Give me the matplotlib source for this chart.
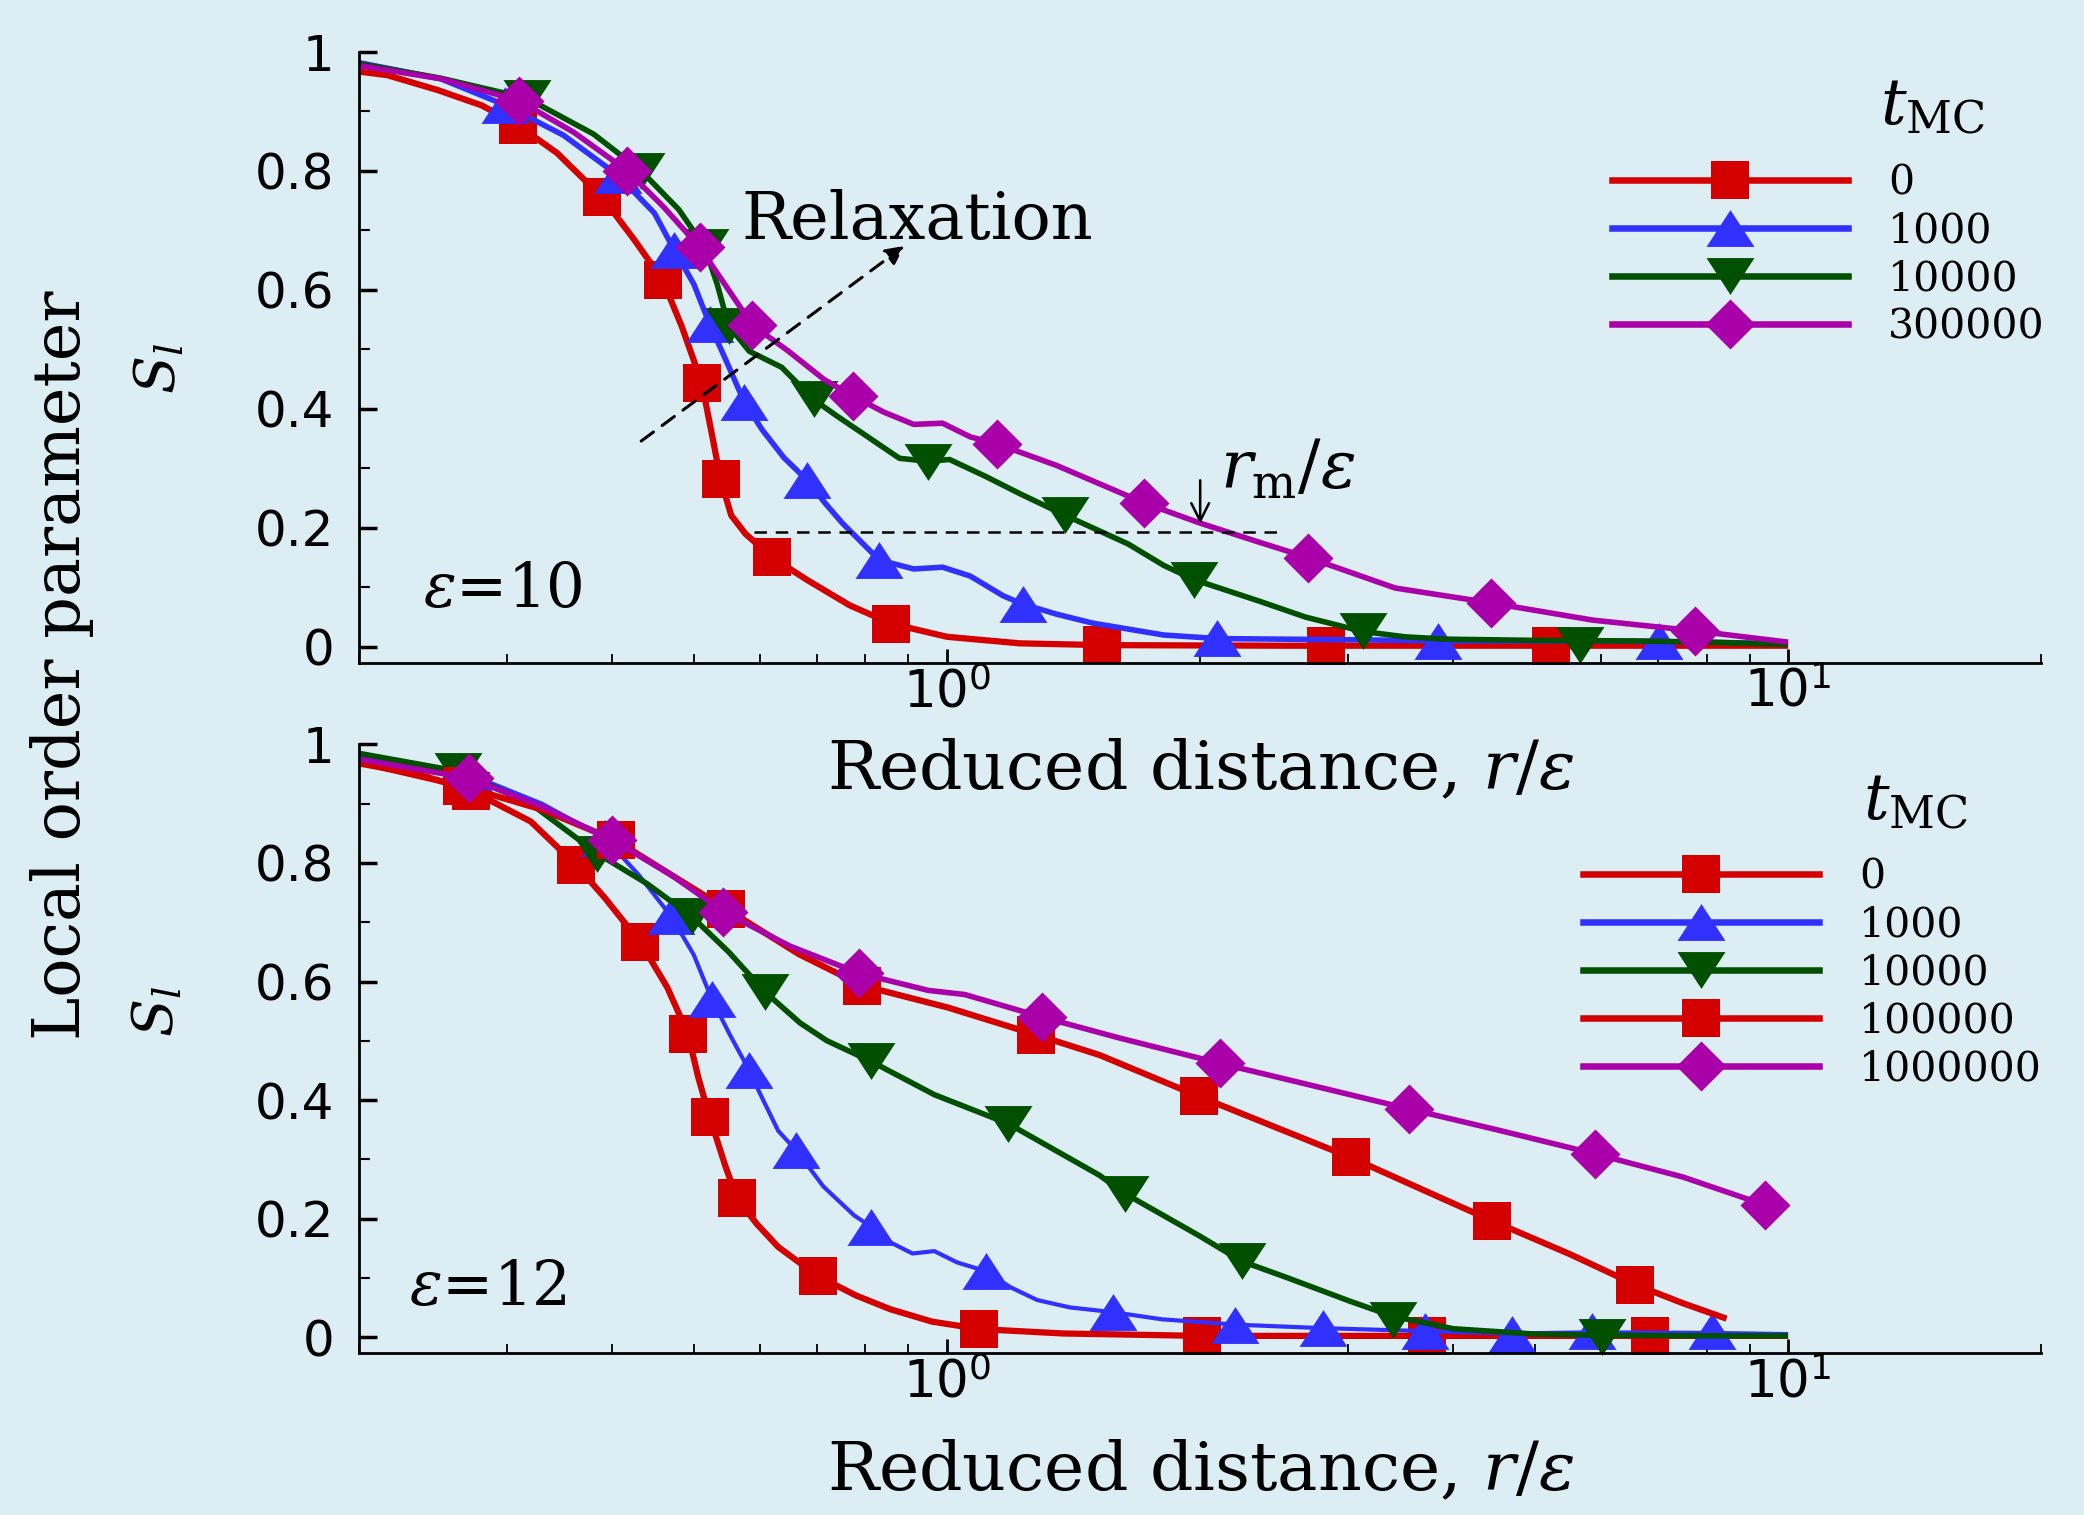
import matplotlib
matplotlib.use("Agg")
import matplotlib.pyplot as plt
from matplotlib.lines import Line2D
from matplotlib.ticker import LogLocator, NullFormatter, MultipleLocator

plt.rcParams['font.family'] = 'DejaVu Serif'
plt.rcParams['mathtext.fontset'] = 'dejavuserif'

BG = '#dcedf3'
RED = '#d40000'
BLUE = '#3030ff'
GREEN = '#005000'
PURPLE = '#aa00aa'

# ---------------- data: epsilon = 10 (top panel) ----------------
a0_cx = [0.2, 0.216, 0.248, 0.28, 0.309, 0.344, 0.389, 0.425, 0.459, 0.484, 0.511, 0.525, 0.538,
         0.554, 0.576, 0.619, 0.681, 0.766, 0.859, 1.0, 1.22, 1.53, 2.5, 4.0, 6.0, 10.0]
a0_cy = [0.967, 0.961, 0.936, 0.91, 0.877, 0.83, 0.756, 0.684, 0.617, 0.538, 0.444, 0.36, 0.282,
         0.221, 0.19, 0.151, 0.113, 0.07, 0.039, 0.017, 0.006, 0.003, 0.002, 0.002, 0.002, 0.002]
a0_mx = [0.309, 0.389, 0.459, 0.511, 0.538, 0.619, 0.859, 1.53, 2.82, 5.23]
a0_my = [0.877, 0.756, 0.617, 0.444, 0.282, 0.151, 0.039, 0.003, 0.002, 0.002]

a1_cx = [0.2, 0.25, 0.298, 0.35, 0.406, 0.449, 0.474, 0.5, 0.522, 0.544, 0.574, 0.603, 0.64,
         0.681, 0.715, 0.751, 0.831, 0.913, 0.988, 1.066, 1.166, 1.23, 1.35, 1.49, 1.81, 2.1, 3.0,
         4.0, 6.0, 8.0, 10.0]
a1_cy = [0.982, 0.955, 0.911, 0.86, 0.793, 0.729, 0.667, 0.61, 0.543, 0.487, 0.412, 0.365, 0.318,
         0.281, 0.243, 0.208, 0.146, 0.131, 0.134, 0.119, 0.086, 0.072, 0.055, 0.04, 0.02, 0.014,
         0.012, 0.01, 0.01, 0.008, 0.005]
a1_mx = [0.298, 0.406, 0.474, 0.522, 0.574, 0.681, 0.831, 1.23, 2.097, 3.84, 7.03]
a1_my = [0.911, 0.793, 0.667, 0.543, 0.412, 0.281, 0.146, 0.072, 0.015, 0.01, 0.01]

a2_cx = [0.2, 0.25, 0.317, 0.38, 0.433, 0.48, 0.515, 0.533, 0.55, 0.582, 0.636, 0.694, 0.74,
         0.788, 0.878, 0.949, 1.007, 1.11, 1.223, 1.383, 1.642, 1.81, 1.967, 2.35, 2.67, 3.12,
         3.5, 3.92, 5.0, 6.6, 8.0, 10.0]
a2_cy = [0.98, 0.956, 0.922, 0.862, 0.8, 0.735, 0.672, 0.61, 0.54, 0.497, 0.47, 0.416, 0.388,
         0.362, 0.317, 0.312, 0.315, 0.287, 0.257, 0.221, 0.173, 0.137, 0.113, 0.077, 0.05, 0.026,
         0.017, 0.013, 0.011, 0.01, 0.008, 0.004]
a2_mx = [0.317, 0.433, 0.515, 0.55, 0.694, 0.949, 1.383, 1.967, 3.12, 5.65]
a2_my = [0.922, 0.8, 0.672, 0.54, 0.416, 0.31, 0.221, 0.113, 0.026, 0.003]

a3_cx = [0.2, 0.25, 0.31, 0.36, 0.417, 0.46, 0.508, 0.55, 0.587, 0.648, 0.715, 0.773, 0.84,
         0.913, 0.988, 1.066, 1.148, 1.35, 1.716, 2.0, 2.35, 2.69, 3.41, 4.43, 5.86, 7.74, 10.0]
a3_cy = [0.977, 0.955, 0.918, 0.865, 0.8, 0.74, 0.672, 0.6, 0.541, 0.497, 0.449, 0.422, 0.395,
         0.374, 0.376, 0.353, 0.341, 0.305, 0.242, 0.208, 0.176, 0.15, 0.099, 0.074, 0.045, 0.027, 0.008]
a3_mx = [0.31, 0.417, 0.508, 0.587, 0.773, 1.148, 1.716, 2.69, 4.43, 7.74]
a3_my = [0.918, 0.8, 0.672, 0.541, 0.422, 0.341, 0.242, 0.15, 0.074, 0.027]

a_labels = ['0', '1000', '10000', '300000']

# ---------------- data: epsilon = 12 (bottom panel) ----------------
b0_cx = [0.2, 0.235, 0.272, 0.32, 0.362, 0.392, 0.432, 0.465, 0.492, 0.506, 0.522, 0.545, 0.563,
         0.594, 0.63, 0.702, 0.78, 0.856, 0.96, 1.093, 1.375, 2.0, 3.0, 5.0, 7.0, 10.0]
b0_cy = [0.968, 0.95, 0.922, 0.87, 0.797, 0.741, 0.666, 0.59, 0.512, 0.439, 0.372, 0.289, 0.234,
         0.191, 0.152, 0.103, 0.07, 0.047, 0.026, 0.0135, 0.006, 0.002, 0.002, 0.002, 0.002, 0.002]
b0_mx = [0.272, 0.362, 0.432, 0.492, 0.522, 0.563, 0.702, 1.093, 2.01, 3.72, 6.85]
b0_my = [0.922, 0.797, 0.666, 0.512, 0.372, 0.234, 0.103, 0.0135, 0.002, 0.002, 0.002]

b1_cx = [0.2, 0.27, 0.33, 0.392, 0.43, 0.47, 0.5, 0.525, 0.552, 0.582, 0.597, 0.63, 0.662, 0.713,
         0.776, 0.813, 0.856, 0.91, 0.966, 1.028, 1.113, 1.19, 1.28, 1.4, 1.575, 1.8, 2.2, 2.8,
         3.7, 4.69, 5.84, 8.11, 10.0]
b1_cy = [0.98, 0.95, 0.9, 0.842, 0.78, 0.71, 0.645, 0.571, 0.51, 0.45, 0.416, 0.348, 0.315, 0.254,
         0.205, 0.186, 0.16, 0.141, 0.145, 0.126, 0.111, 0.084, 0.0625, 0.05, 0.042, 0.03, 0.021, 0.015,
         0.01, 0.006, 0.008, 0.007, 0.005]
b1_mx = [0.27, 0.392, 0.47, 0.525, 0.582, 0.662, 0.813, 1.113, 1.575, 2.2, 2.8, 3.7, 4.69, 5.84, 8.11]
b1_my = [0.95, 0.842, 0.71, 0.571, 0.45, 0.315, 0.186, 0.111, 0.042, 0.021, 0.015, 0.01, 0.005, 0.01, 0.01]

b2_cx = [0.2, 0.262, 0.32, 0.384, 0.44, 0.497, 0.55, 0.608, 0.669, 0.72, 0.813, 0.966, 1.183,
         1.518, 1.628, 2.0, 2.24, 2.54, 3.02, 3.39, 4.0, 5.0, 6.0, 8.0, 10.0]
b2_cy = [0.985, 0.955, 0.9, 0.816, 0.765, 0.71, 0.65, 0.582, 0.53, 0.5, 0.465, 0.409, 0.36,
         0.273, 0.242, 0.17, 0.128, 0.1, 0.06, 0.035, 0.014, 0.005, 0.003, 0.002, 0.002]
b2_mx = [0.262, 0.384, 0.497, 0.608, 0.813, 1.183, 1.628, 2.24, 3.39, 6.01]
b2_my = [0.955, 0.816, 0.71, 0.582, 0.465, 0.36, 0.242, 0.128, 0.028, 0.0]

b3_cx = [0.2, 0.265, 0.33, 0.404, 0.47, 0.546, 0.667, 0.793, 1.003, 1.276, 1.518, 1.994, 3.02,
         4.45, 5.5, 6.58, 7.5, 8.45]
b3_cy = [0.97, 0.93, 0.89, 0.838, 0.78, 0.723, 0.646, 0.593, 0.556, 0.51, 0.476, 0.406, 0.303,
         0.196, 0.14, 0.0885, 0.057, 0.031]
b3_mx = [0.265, 0.404, 0.546, 0.793, 1.276, 1.994, 3.02, 4.45, 6.58]
b3_my = [0.93, 0.838, 0.723, 0.593, 0.51, 0.406, 0.303, 0.196, 0.0885]

b4_cx = [0.2, 0.2705, 0.33, 0.4, 0.47, 0.542, 0.65, 0.786, 0.95, 1.05, 1.297, 1.6, 2.11, 2.8,
         3.54, 4.5, 5.9, 7.5, 9.38]
b4_cy = [0.975, 0.943, 0.895, 0.839, 0.78, 0.718, 0.66, 0.614, 0.585, 0.578, 0.54, 0.505, 0.462,
         0.42, 0.385, 0.35, 0.309, 0.27, 0.223]
b4_mx = [0.2705, 0.4, 0.542, 0.786, 1.297, 2.11, 3.54, 5.9, 9.38]
b4_my = [0.943, 0.839, 0.718, 0.614, 0.54, 0.462, 0.385, 0.309, 0.223]

b_labels = ['0', '1000', '10000', '100000', '1000000']

y_ticks = [0, 0.2, 0.4, 0.6, 0.8, 1]
y_ticklabels = ['0', '0.2', '0.4', '0.6', '0.8', '1']
x_ticks = [1, 10]
x_ticklabels = [r'$\mathsf{10}^{\mathsf{0}}$', r'$\mathsf{10}^{\mathsf{1}}$']

# annotation anchors (data coords of top panel)
relax_from = (0.433, 0.346)
relax_to = (0.89, 0.674)
rm_level = 0.193
rm_span = (0.59, 2.5)
rm_x = 2.0

# marker styles
TRI_UP = [(0, 1), (-1.3, -1), (1.3, -1)]
TRI_DOWN = [(0, -1), (-1.3, 1), (1.3, 1)]
DIAMOND = [(0, 1), (1, 0), (0, -1), (-1, 0)]
sq = dict(marker='s', ms=28)
up = dict(marker=TRI_UP, ms=34.5)
down = dict(marker=TRI_DOWN, ms=34.5)
dia = dict(marker=DIAMOND, ms=36)


def draw(ax, cx, cy, mx, my, color, mk, lw=4.0):
    ax.plot(cx, cy, color=color, lw=lw, solid_capstyle='butt', solid_joinstyle='round')
    ax.plot(mx, my, ls='none', color=color, mew=0, clip_on=False, **mk)
    return Line2D([], [], color=color, lw=4.7, mew=0, **mk)


def setup(ax, label_y):
    ax.set_facecolor('none')
    ax.set_xscale('log')
    ax.set_xlim(0.2, 20)
    ax.set_ylim(-0.027, 1.0)
    for s in ['top', 'right']:
        ax.spines[s].set_visible(False)
    for s in ['left', 'bottom']:
        ax.spines[s].set_linewidth(2)
    ax.set_yticks(y_ticks, y_ticklabels, family='DejaVu Sans', fontsize=36)
    ax.yaxis.set_minor_locator(MultipleLocator(0.1))
    ax.set_xticks(x_ticks, x_ticklabels, fontsize=37)
    ax.xaxis.set_minor_locator(LogLocator(base=10, subs=range(2, 10)))
    ax.xaxis.set_minor_formatter(NullFormatter())
    ax.tick_params(axis='y', which='major', direction='in', length=13, width=2.5, pad=18)
    ax.tick_params(axis='y', which='minor', direction='in', length=8, width=1.5)
    ax.tick_params(axis='x', which='major', direction='in', length=10, width=2, pad=4)
    ax.tick_params(axis='x', which='minor', direction='in', length=6.5, width=1.3)
    ax.set_xlabel(r'Reduced distance, $r/\varepsilon$', fontsize=49)
    ax.xaxis.set_label_coords(0.5, label_y)
    ax.xaxis.label.set_va('baseline')


fig = plt.figure(figsize=(20.84, 15.15), dpi=100, facecolor=BG)
ax1 = fig.add_axes([0.1723, 0.5624, 0.8072, 0.4033])
ax2 = fig.add_axes([0.1723, 0.1069, 0.8072, 0.4017])
setup(ax1, -0.206)
setup(ax2, -0.225)

# top panel
h = [draw(ax1, a0_cx, a0_cy, a0_mx, a0_my, RED, sq, 4.5),
     draw(ax1, a1_cx, a1_cy, a1_mx, a1_my, BLUE, up),
     draw(ax1, a2_cx, a2_cy, a2_mx, a2_my, GREEN, down),
     draw(ax1, a3_cx, a3_cy, a3_mx, a3_my, PURPLE, dia)]
ax1.legend(h, a_labels, loc='upper left', bbox_to_anchor=(0.745, 0.818), frameon=False,
           fontsize=29.5, handlelength=5.75, handletextpad=0.98, labelspacing=0.195,
           borderpad=0, borderaxespad=0)
ax1.text(0.904, 0.8805, r'$t_{\rm MC}$', fontsize=46, transform=ax1.transAxes, va='baseline')
ax1.text(0.038, 0.0917, r'$\varepsilon$=10', fontsize=44, transform=ax1.transAxes, va='baseline')
ax1.text(0.227, 0.694, 'Relaxation', fontsize=47, transform=ax1.transAxes, va='baseline')
ax1.annotate('', xy=relax_to, xytext=relax_from,
             arrowprops=dict(arrowstyle='-|>', lw=2.2, ls=(0, (5, 3.5)), color='k',
                             mutation_scale=28, shrinkA=0, shrinkB=0))
ax1.hlines(rm_level, rm_span[0], rm_span[1], colors='k', lw=1.8, linestyles=(0, (5, 3.5)))
ax1.annotate('', xy=(rm_x, 0.207), xytext=(rm_x, 0.28),
             arrowprops=dict(arrowstyle='->', lw=1.8, color='k', mutation_scale=32,
                             shrinkA=0, shrinkB=0))
ax1.text(2.11, 0.266, r'$r_{\rm m}/\varepsilon$', fontsize=48, va='baseline')

# bottom panel
h = [draw(ax2, b0_cx, b0_cy, b0_mx, b0_my, RED, sq, 4.5),
     draw(ax2, b1_cx, b1_cy, b1_mx, b1_my, BLUE, up, 3.0),
     draw(ax2, b2_cx, b2_cy, b2_mx, b2_my, GREEN, down),
     draw(ax2, b3_cx, b3_cy, b3_mx, b3_my, RED, sq, 4.5),
     draw(ax2, b4_cx, b4_cy, b4_mx, b4_my, PURPLE, dia)]
ax2.legend(h, b_labels, loc='upper left', bbox_to_anchor=(0.7277, 0.814), frameon=False,
           fontsize=29.5, handlelength=5.75, handletextpad=0.98, labelspacing=0.195,
           borderpad=0, borderaxespad=0)
ax2.text(0.894, 0.876, r'$t_{\rm MC}$', fontsize=46, transform=ax2.transAxes, va='baseline')
ax2.text(0.0297, 0.079, r'$\varepsilon$=12', fontsize=44, transform=ax2.transAxes, va='baseline')

fig.text(62 / 2084, 1 - 665 / 1515, 'Local order parameter', rotation=90, fontsize=47,
         ha='center', va='center')
fig.text(160 / 2084, 1 - 369 / 1515, '$S_l$', rotation=90, fontsize=40, ha='center', va='center')
fig.text(158 / 2084, 1 - 1012 / 1515, '$S_l$', rotation=90, fontsize=40, ha='center', va='center')

fig.savefig('out.png', dpi=100, facecolor=BG)
